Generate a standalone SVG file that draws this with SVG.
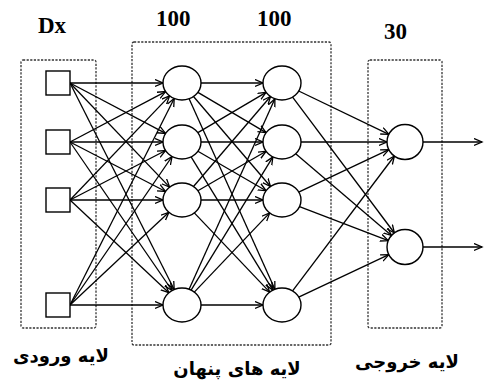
<svg xmlns="http://www.w3.org/2000/svg" width="488" height="381" viewBox="0 0 488 381">
<style>
.box{fill:none;stroke:#333;stroke-width:1.3;stroke-dasharray:2.2,1.4}
.node{fill:#fff;stroke:#000;stroke-width:1.4}
.e line{stroke:#000;stroke-width:1.3;marker-end:url(#ah)}
.num{font-family:"Liberation Serif","Times New Roman",serif;font-weight:bold;font-size:23px;fill:#000}
.fa{font-family:"DejaVu Sans","Noto Sans",sans-serif;font-weight:bold;font-size:18px;fill:#000;text-anchor:middle}
</style>
<defs>
<marker id="ah" markerUnits="userSpaceOnUse" markerWidth="10" markerHeight="10" refX="8" refY="4" orient="auto">
<path d="M0,0.5 L8,4 L0,7.5" fill="none" stroke="#000" stroke-width="1.3"/>
</marker>
</defs>
<g id="layer-boxes">
<rect class="box" x="21" y="60" width="75" height="268" rx="2"/>
<rect class="box" x="132" y="42" width="199" height="303" rx="2"/>
<rect class="box" x="368" y="60" width="74" height="268" rx="2"/>
</g>
<g id="connectors" class="e">
<line x1="70" y1="83" x2="163" y2="83"/>
<line x1="70" y1="83" x2="165.6" y2="133.4"/>
<line x1="70" y1="83" x2="169.6" y2="187.1"/>
<line x1="70" y1="83" x2="174.2" y2="289.5"/>
<line x1="70" y1="142" x2="165.6" y2="91.6"/>
<line x1="70" y1="142" x2="163" y2="142"/>
<line x1="70" y1="142" x2="165.6" y2="191.5"/>
<line x1="70" y1="142" x2="172.05" y2="290.5"/>
<line x1="70" y1="200" x2="169.6" y2="95.9"/>
<line x1="70" y1="200" x2="165.6" y2="150.5"/>
<line x1="70" y1="200" x2="163" y2="200"/>
<line x1="70" y1="200" x2="168.9" y2="292.7"/>
<line x1="70" y1="305" x2="174.2" y2="98.5"/>
<line x1="70" y1="305" x2="172.05" y2="156.5"/>
<line x1="70" y1="305" x2="168.9" y2="212.3"/>
<line x1="70" y1="305" x2="163" y2="305"/>
<line x1="201" y1="83" x2="263" y2="83"/>
<line x1="197.9" y1="92.4" x2="266.1" y2="132.6"/>
<line x1="193.5" y1="96.5" x2="270.5" y2="186.5"/>
<line x1="189.1" y1="98.8" x2="274.9" y2="289.2"/>
<line x1="197.9" y1="132.6" x2="266.1" y2="92.4"/>
<line x1="201" y1="142" x2="263" y2="142"/>
<line x1="197.9" y1="151.2" x2="266.1" y2="190.8"/>
<line x1="191.1" y1="156.9" x2="272.9" y2="290.1"/>
<line x1="193.5" y1="186.5" x2="270.5" y2="96.5"/>
<line x1="197.9" y1="190.8" x2="266.1" y2="151.2"/>
<line x1="201" y1="200" x2="263" y2="200"/>
<line x1="194.3" y1="212.9" x2="269.7" y2="292.1"/>
<line x1="189.1" y1="289.2" x2="274.9" y2="98.8"/>
<line x1="191.1" y1="290.1" x2="272.9" y2="156.9"/>
<line x1="194.3" y1="292.1" x2="269.7" y2="212.9"/>
<line x1="201" y1="305" x2="263" y2="305"/>
<line x1="298.7" y1="91" x2="388.9" y2="134.3"/>
<line x1="301" y1="142" x2="387" y2="142"/>
<line x1="298.7" y1="192.1" x2="388.8" y2="149.6"/>
<line x1="292.6" y1="290.9" x2="394.4" y2="156"/>
<line x1="292.6" y1="97.1" x2="394.4" y2="233"/>
<line x1="295.7" y1="153.7" x2="391.5" y2="235.5"/>
<line x1="299.5" y1="206.7" x2="388.3" y2="240.6"/>
<line x1="298.7" y1="297.1" x2="388.8" y2="254.6"/>
<line x1="423" y1="142" x2="482" y2="142"/>
<line x1="423" y1="247" x2="482" y2="247"/>
</g>
<g id="in1"><rect class="node" x="46" y="71" width="24" height="24"/></g>
<g id="in2"><rect class="node" x="46" y="130" width="24" height="24"/></g>
<g id="in3"><rect class="node" x="46" y="188" width="24" height="24"/></g>
<g id="in4"><rect class="node" x="46" y="293" width="24" height="24"/></g>
<g id="h1a"><ellipse class="node" cx="182" cy="83" rx="19" ry="17"/></g>
<g id="h1b"><ellipse class="node" cx="182" cy="142" rx="19" ry="17"/></g>
<g id="h1c"><ellipse class="node" cx="182" cy="200" rx="19" ry="17"/></g>
<g id="h1d"><ellipse class="node" cx="182" cy="305" rx="19" ry="17"/></g>
<g id="h2a"><ellipse class="node" cx="282" cy="83" rx="19" ry="17"/></g>
<g id="h2b"><ellipse class="node" cx="282" cy="142" rx="19" ry="17"/></g>
<g id="h2c"><ellipse class="node" cx="282" cy="200" rx="19" ry="17"/></g>
<g id="h2d"><ellipse class="node" cx="282" cy="305" rx="19" ry="17"/></g>
<g id="o1"><ellipse class="node" cx="405" cy="142" rx="18" ry="17.5"/></g>
<g id="o2"><ellipse class="node" cx="405" cy="247" rx="18" ry="17.5"/></g>
<g id="labels">
<text class="num" x="38" y="33">Dx</text>
<text class="num" x="156" y="26">100</text>
<text class="num" x="257" y="26">100</text>
<text class="num" x="384" y="39">30</text>
<text class="fa" x="61" y="362" direction="rtl">لایه ورودی</text>
<text class="fa" x="237" y="375" direction="rtl">لایه های پنهان</text>
<text class="fa" x="407" y="368" direction="rtl">لایه خروجی</text>
</g>
</svg>
